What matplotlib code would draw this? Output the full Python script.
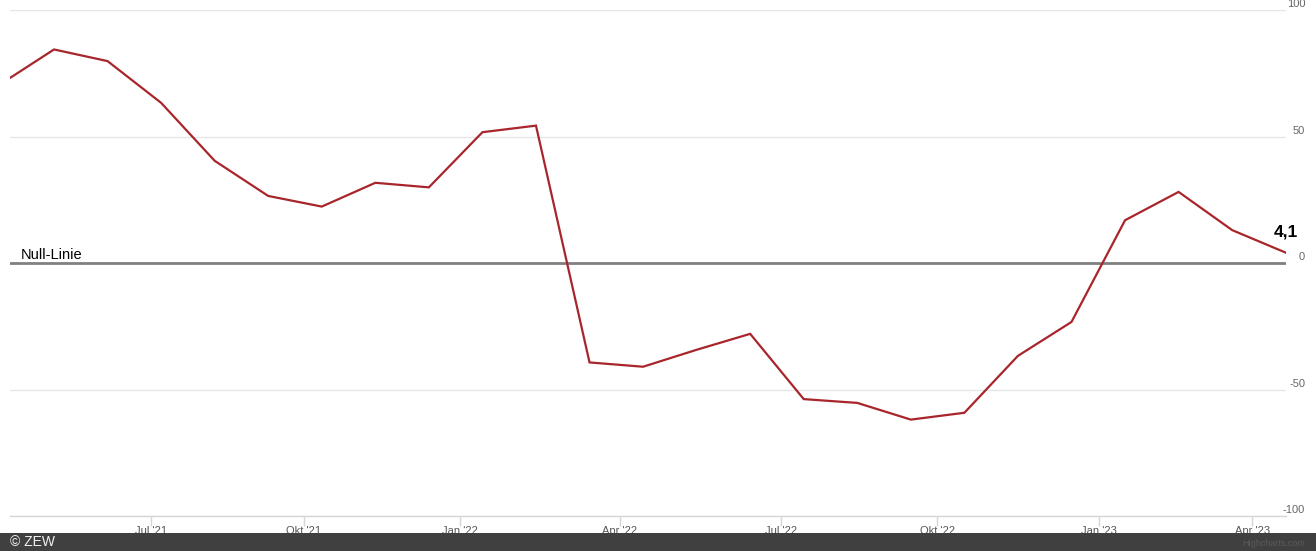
import matplotlib
matplotlib.use("Agg")
import matplotlib.pyplot as plt
from matplotlib.patches import Rectangle

plt.rcParams['font.family'] = ['Liberation Sans', 'DejaVu Sans']

# ZEW Konjunkturerwartungen, monatlich Apr 2021 - Apr 2023
months = ['2021-04', '2021-05', '2021-06', '2021-07', '2021-08', '2021-09',
          '2021-10', '2021-11', '2021-12', '2022-01', '2022-02', '2022-03',
          '2022-04', '2022-05', '2022-06', '2022-07', '2022-08', '2022-09',
          '2022-10', '2022-11', '2022-12', '2023-01', '2023-02', '2023-03',
          '2023-04']
values = [70.7, 84.4, 79.8, 63.3, 40.4, 26.5, 22.3, 31.7, 29.9, 51.7, 54.3,
          -39.3, -41.0, -34.3, -28.0, -53.8, -55.3, -61.9, -59.2, -36.7,
          -23.3, 16.9, 28.1, 13.0, 4.1]

tick_labels = ["Jul '21", "Okt '21", "Jan '22", "Apr '22",
               "Jul '22", "Okt '22", "Jan '23", "Apr '23"]
y_ticks = [100, 50, 0, -50, -100]

# ordinal axis: month ticks sit a bit before the data points
tick_pos = [2.81, 5.66, 8.58, 11.57, 14.58, 17.49, 20.52, 23.38]

W, H = 1316, 551
fig = plt.figure(figsize=(W / 100, H / 100), dpi=100)
ax = fig.add_axes([10 / W, 35 / H, 1275.7 / W, 506 / H])

x = list(range(len(values)))
ax.plot(x, values, color='#a8262b', linewidth=1.6, zorder=4,
        solid_joinstyle='miter')
ax.set_xlim(0.178, len(values) - 1)
ax.set_ylim(-100, 100)

# grid + null line
for v in y_ticks:
    ax.axhline(v, color='#e6e6e6', linewidth=1, zorder=1)
ax.axhline(0, color='#808080', linewidth=2, zorder=3)
ax.annotate('Null-Linie', xy=(0, 0), xycoords=('axes fraction', 'data'),
            xytext=(7.5, 3), textcoords='offset points',
            ha='left', va='baseline', fontsize=10.5, color='#000000')

for s in ['top', 'left', 'right']:
    ax.spines[s].set_visible(False)
ax.spines['bottom'].set_color('#d6d6d6')
ax.spines['bottom'].set_linewidth(1)

ax.set_yticks([])
for v in y_ticks:
    ax.annotate(str(v), xy=(1, v), xycoords=('axes fraction', 'data'),
                xytext=(14, 4.3), textcoords='offset points',
                ha='right', va='center', fontsize=8, color='#666666')

ax.set_xticks(tick_pos, tick_labels)
ax.tick_params(axis='x', length=7, width=1, color='#d6d6d6',
               labelcolor='#555555', labelsize=8, pad=0.5)

# last value label
last = f"{values[-1]:.1f}".replace('.', ',')
ax.annotate(last, xy=(x[-1], values[-1]), xytext=(0, 11.7),
            textcoords='offset points', ha='center', va='baseline',
            fontsize=12.5, fontweight='bold', color='#000000',
            annotation_clip=False)

# footer band
fig.patches.append(Rectangle((0, 0), 1, 18 / H, transform=fig.transFigure,
                             facecolor='#404040', edgecolor='none', zorder=5))
fig.text(10 / W, 9 / H, '\u00a9 ZEW', color='#f0f0f0', fontsize=10,
         ha='left', va='center', zorder=6)
fig.text(1305 / W, 8 / H, 'Highcharts.com', color='#5a5a5a', fontsize=6.5,
         ha='right', va='center', zorder=6)

fig.savefig('out.png', dpi=100)
